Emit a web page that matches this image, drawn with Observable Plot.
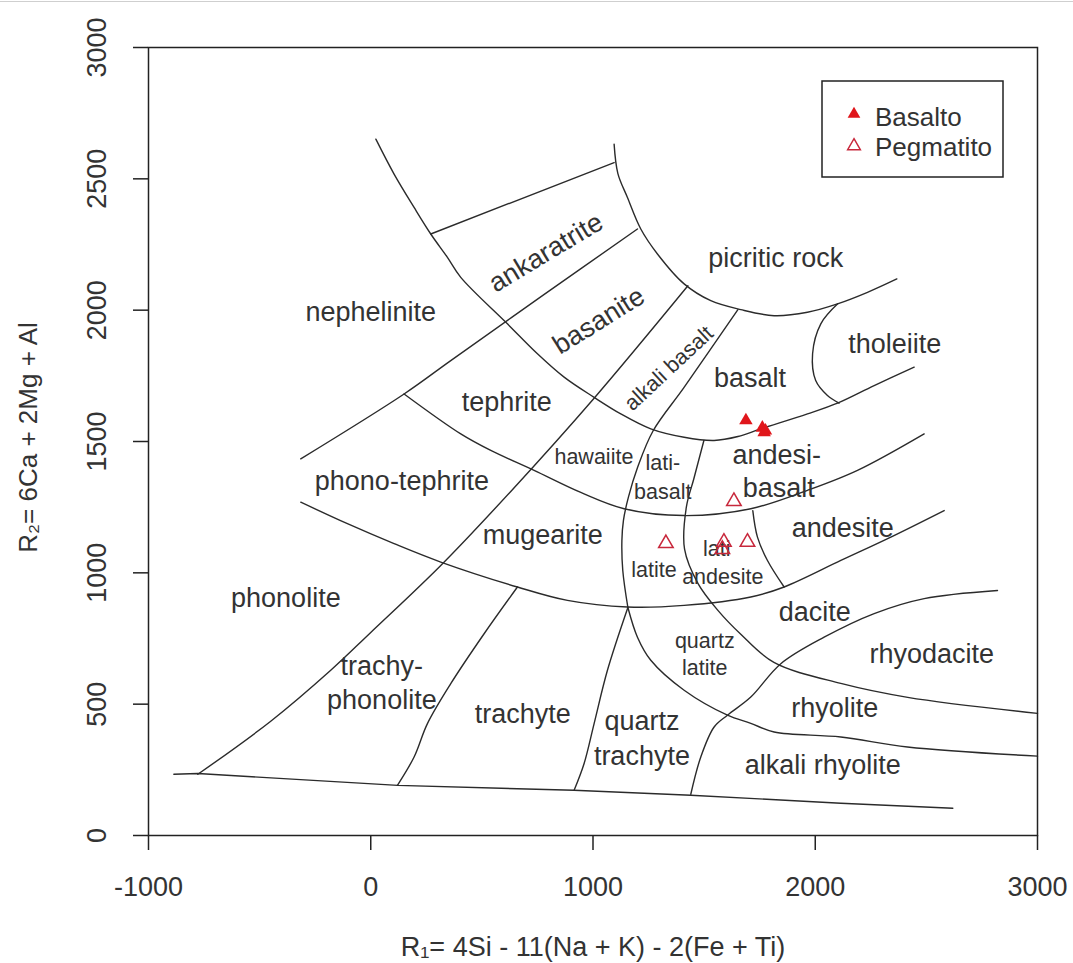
<!DOCTYPE html>
<html><head><meta charset="utf-8">
<script src="https://cdn.jsdelivr.net/npm/d3@7"></script>
<script src="https://cdn.jsdelivr.net/npm/@observablehq/plot@0.6"></script>
<style>
body{margin:0;background:#fff;}
#wrap{position:relative;width:1073px;height:963px;overflow:hidden;background:#fff;}
#topline{position:absolute;left:0;top:1px;width:1073px;height:1px;background:#cfcfcf;}
#legend{position:absolute;left:821px;top:80px;}
</style></head>
<body><div id="wrap"><div id="topline"></div></div>
<script>
// ---------- axis ticks ----------
const xTicks = [-1000, 0, 1000, 2000, 3000];
const yTicks = [0, 500, 1000, 1500, 2000, 2500, 3000];

// ---------- field boundaries (R1, R2) ----------
const baseLine = [[-886,233],[-778,236],[122,191],[914,172],[1440,153],[2115,123],[2619,104]];
const phonoliteLine = [[-778,233],[-450,435],[-180,629],[0,773],[315,1028],[630,1310],[1004,1664],[1427,2093]];
const nephelGroup = [[-315,1434],[150,1681],[360,1808],[779,2059],[1200,2309]];
const arc1 = [[23,2651],[105,2518],[195,2391],[270,2290],[345,2201],[405,2125],[615,1948],[750,1834],[870,1745],[1005,1668],[1125,1605],[1260,1548],[1410,1516],[1545,1504],[1652,1519],[1755,1548],[1965,1605],[2100,1646],[2265,1713],[2445,1783]];
const ankaraTop = [[270,2290],[1095,2562]];
const picriticArc = [[1095,2632],[1112,2520],[1155,2429],[1215,2309],[1290,2214],[1410,2100],[1530,2036],[1665,2002],[1815,1979],[1965,1992],[2100,2024],[2235,2068],[2367,2119]];
const tholeiiteLine = [[2101,2024],[2025,1948],[1988,1834],[2002,1732],[2055,1675],[2107,1646]];
const alkBasaltLine = [[1652,2002],[1409,1705],[1270,1540],[1200,1400],[1160,1290],[1137,1200],[1130,1123],[1134,1009],[1157,868]];
const qTrachyteLine = [[1157,868],[1065,629],[1005,426],[960,274],[915,172]];
const rhyoliteLine = [[1157,868],[1200,755],[1260,667],[1410,553],[1605,458],[1710,427],[1815,394],[2115,375],[2415,337],[3000,302]];
const latiLine = [[1499,1504],[1454,1359],[1420,1250],[1412,1090],[1472,960],[1562,857],[1665,766],[1814,659],[2115,579],[2416,526],[3000,465]];
const andesiteLine = [[1719,1237],[1740,1136],[1785,1047],[1860,946]];
const arc2 = [[150,1681],[405,1529],[540,1466],[735,1390],[945,1306],[1140,1244],[1410,1218],[1710,1244],[1965,1314],[2190,1390],[2490,1529]];
const arc3 = [[-315,1269],[-105,1187],[105,1111],[315,1041],[660,946],[885,895],[1155,870],[1410,876],[1710,908],[1860,946],[2115,1047],[2340,1136],[2580,1237]];
const trachyteLine = [[660,946],[510,768],[360,578],[255,426],[195,299],[120,191]];
const rhyodaciteLine = [[1440,157],[1485,299],[1545,413],[1605,458],[1710,527],[1845,654],[2040,755],[2265,845],[2490,902],[2820,933]];

// ---------- samples ----------
const basaltoR1 = [1688, 1762, 1776, 1770];
const basaltoR2 = [1580, 1552, 1541, 1535];
const pegmatitoR1 = [1328, 1634, 1589, 1582, 1695];
const pegmatitoR2 = [1112, 1272, 1117, 1090, 1117];

// ---------- field names ----------
const bigNames = ["nephelinite","picritic rock","tholeiite","basalt","tephrite","andesi-","basalt","phono-tephrite","mugearite","andesite","phonolite","dacite","rhyodacite","trachy-","phonolite","trachyte","rhyolite","quartz","trachyte","alkali rhyolite"];
const bigR1 = [0,1822,2358,1706,612,1827,1836,140,774,2124,-382,1998,2524,50,50,684,2088,1220,1220,2034];
const bigR2 = [1991,2196,1869,1740,1648,1447,1321,1348,1142,1169,903,849,690,644,515,461,484,435,302,267];
const smallNames = ["hawaiite","lati-","basalt","latite","lati","andesite","quartz","latite"];
const smallR1 = [1004,1314,1314,1274,1557,1584,1503,1503];
const smallR2 = [1439,1416,1306,1009,1089,983,739,636];
const ankName = ["ankaratrite"], ankR1 = [788], ankR2 = [2219];
const basnName = ["basanite"], basnR1 = [1026], basnR2 = [1960];
const alkName = ["alkali basalt"], alkR1 = [1341], alkR2 = [1778];

const xTitle = "R\u2081= 4Si - 11(Na + K) - 2(Fe + Ti)";
const yTitle = "R\u2082= 6Ca + 2Mg + Al";
const legendNames = ["Basalto", "Pegmatito"];

const FONT = "'Liberation Sans', Arial, Helvetica, sans-serif";
const INK = "#2b2b2b";
const TXT = "#333333";
const RED = "#e0161b";
const ROSE = "#c8283c";

const curveLines = [phonoliteLine, nephelGroup, arc1, picriticArc, tholeiiteLine, alkBasaltLine, qTrachyteLine, rhyoliteLine, latiLine, andesiteLine, arc2, arc3, trachyteLine, rhyodaciteLine];
const straightLines = [baseLine, ankaraTop];

const lineMark = (pts, curve) => Plot.line(pts, {x: d => d[0], y: d => d[1], curve, stroke: INK, strokeWidth: 1.4});
const idx = a => a.map((_, i) => i);

const chart = Plot.plot({
  width: 1073, height: 963,
  marginLeft: 148, marginRight: 36, marginTop: 47, marginBottom: 128,
  x: {domain: [-1000, 3000]},
  y: {domain: [0, 3000]},
  style: {fontFamily: FONT, background: "white", color: TXT},
  marks: [
    ...curveLines.map(p => lineMark(p, "catmull-rom")),
    ...straightLines.map(p => lineMark(p, "linear")),
    Plot.frame({stroke: "#222", strokeWidth: 1.5}),
    Plot.axisX({ticks: xTicks, tickSize: 15, stroke: "#222", strokeWidth: 1.5, fill: "none", label: null}),
    Plot.axisY({ticks: yTicks, tickSize: 15, stroke: "#222", strokeWidth: 1.5, fill: "none", label: null}),
    Plot.text(xTicks, {x: d => d, y: 0, text: d => String(d), dy: 52, fontSize: 27, fill: TXT, fontFamily: FONT}),
    Plot.text(yTicks, {x: -1000, y: d => d, text: d => String(d), rotate: -90, dx: -51, fontSize: 27, fill: TXT, fontFamily: FONT}),
    Plot.text([xTitle], {frameAnchor: "bottom", textAnchor: "middle", lineAnchor: "middle", dy: 112, fontSize: 27, fill: TXT, fontFamily: FONT}),
    Plot.text([yTitle], {frameAnchor: "left", textAnchor: "middle", lineAnchor: "middle", rotate: -90, dx: -120, dy: -4, fontSize: 26, fill: TXT, fontFamily: FONT}),
    Plot.text(idx(bigNames), {x: i => bigR1[i], y: i => bigR2[i], text: i => bigNames[i], fontSize: 27, fill: TXT, fontFamily: FONT}),
    Plot.text(idx(smallNames), {x: i => smallR1[i], y: i => smallR2[i], text: i => smallNames[i], fontSize: 21.5, fill: TXT, fontFamily: FONT}),
    Plot.text(idx(ankName), {x: i => ankR1[i], y: i => ankR2[i], text: i => ankName[i], rotate: -31, fontSize: 27, fill: TXT, fontFamily: FONT}),
    Plot.text(idx(basnName), {x: i => basnR1[i], y: i => basnR2[i], text: i => basnName[i], rotate: -32, fontSize: 27, fill: TXT, fontFamily: FONT}),
    Plot.text(idx(alkName), {x: i => alkR1[i], y: i => alkR2[i], text: i => alkName[i], rotate: -43, fontSize: 21.5, fill: TXT, fontFamily: FONT}),
    Plot.dot(idx(pegmatitoR1), {x: i => pegmatitoR1[i], y: i => pegmatitoR2[i], symbol: "triangle", r: 5.4, stroke: ROSE, strokeWidth: 1.5, fill: "none"}),
    Plot.dot(idx(basaltoR1), {x: i => basaltoR1[i], y: i => basaltoR2[i], symbol: "triangle", r: 5.0, fill: RED, stroke: "none"})
  ]
});
const wrap = document.getElementById("wrap");
wrap.appendChild(chart);

// legend (top-right, inside the frame)
const ns = "http://www.w3.org/2000/svg";
const lg = document.createElementNS(ns, "svg");
lg.setAttribute("id", "legend");
lg.setAttribute("width", 184); lg.setAttribute("height", 99);
lg.innerHTML = `<rect x="1" y="1" width="181" height="96" fill="#fff" stroke="#222" stroke-width="1.5"/>`;
const sym = d3.symbol(d3.symbolTriangle, 70)();
const rows = [{y: 46, ty: 34, fill: RED, stroke: "none"}, {y: 76, ty: 66, fill: "none", stroke: ROSE}];
legendNames.forEach((name, i) => {
  const r = rows[i];
  const p = document.createElementNS(ns, "path");
  p.setAttribute("d", sym);
  p.setAttribute("transform", `translate(33,${r.ty})`);
  p.setAttribute("fill", r.fill); p.setAttribute("stroke", r.stroke); p.setAttribute("stroke-width", 1.5);
  lg.appendChild(p);
  const t = document.createElementNS(ns, "text");
  t.setAttribute("x", 54); t.setAttribute("y", r.y);
  t.setAttribute("font-family", FONT); t.setAttribute("font-size", 26); t.setAttribute("fill", TXT);
  t.textContent = name;
  lg.appendChild(t);
});
wrap.appendChild(lg);
</script>
</body></html>
